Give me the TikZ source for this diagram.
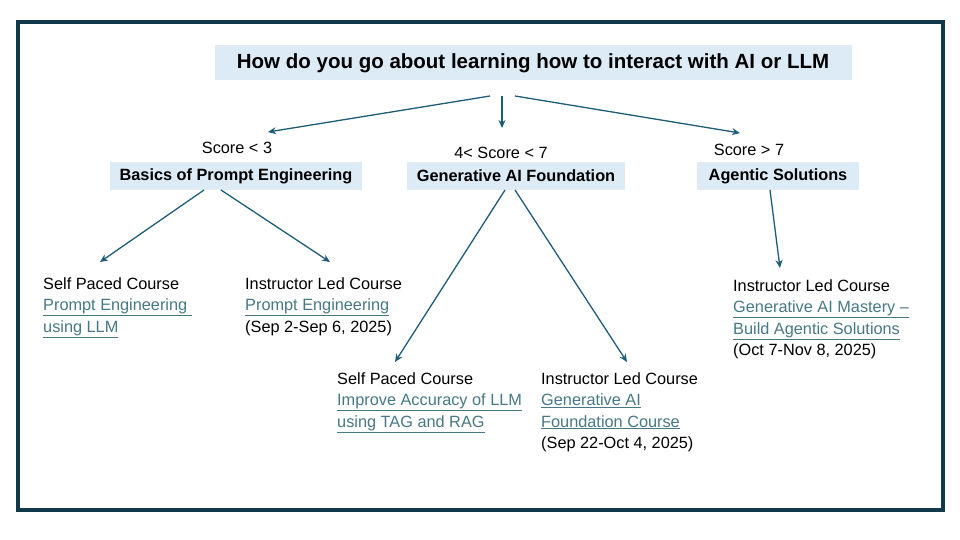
\documentclass[tikz,border=0pt]{standalone}
\usepackage{fontspec}
\usetikzlibrary{arrows.meta}
\setmainfont{Liberation Sans}
\definecolor{frame}{HTML}{12394A}
\definecolor{boxfill}{HTML}{DDEBF7}
\definecolor{arr}{HTML}{1F5C7A}
\definecolor{lnk}{HTML}{467886}
\newcommand{\lk}[1]{\textcolor{lnk}{\underline{#1}}}
\begin{document}
\begin{tikzpicture}[x=1pt,y=-1pt,
  hdr/.style={fill=boxfill,inner sep=0pt,font=\bfseries\fontsize{16.3}{18}\selectfont},
  txt/.style={anchor=north west,align=left,inner sep=0pt,font=\fontsize{16.3}{21.5}\selectfont},
  lbl/.style={inner sep=0pt,font=\fontsize{16.3}{18}\selectfont},
  con/.style={arr,line width=1.3pt,-{Stealth[length=8pt,width=7pt]}}]
\useasboundingbox (0,0) rectangle (960,540);
\draw[frame,line width=4pt] (18,22) rectangle (943,510);
\node[fill=boxfill,minimum width=637,minimum height=35,inner sep=0pt,font=\bfseries\fontsize{20.5}{22}\selectfont] (t) at (533,63) {How do you go about learning how to interact with AI or LLM};
\coordinate (t1) at (490,96); \coordinate (t2) at (502,96); \coordinate (t3) at (515,96);
\node[lbl] (s1) at (237,148) {Score < 3};
\node[lbl] (s2) at (501,153) {4< Score < 7};
\node[lbl] (s3) at (749,150) {Score > 7};
\coordinate (a1) at (268,132); \coordinate (a2) at (502,128); \coordinate (a3) at (740,133);
\draw[con] (t1)--(a1); \draw[con] (t2)--(a2); \draw[con] (t3)--(a3);
\node[hdr,minimum width=252,minimum height=28] (b1) at (236,176) {Basics of Prompt Engineering};
\node[hdr,minimum width=218,minimum height=28] (b2) at (516,176) {Generative AI Foundation};
\node[hdr,minimum width=162,minimum height=28] (b3) at (778,176) {Agentic Solutions};
\node[txt] (c1) at (43,277) {Self Paced Course\\\lk{Prompt Engineering }\\\lk{using LLM}};
\node[txt] (c2) at (245,277) {Instructor Led Course\\\lk{Prompt Engineering}\\(Sep 2-Sep 6, 2025)};
\node[txt] (c3) at (337,372) {Self Paced Course\\\lk{Improve Accuracy of LLM}\\\lk{using TAG and RAG}};
\node[txt] (c4) at (541,372) {Instructor Led Course\\\lk{Generative AI}\\\lk{Foundation Course}\\(Sep 22-Oct 4, 2025)};
\node[txt] (c5) at (733,279) {Instructor Led Course\\\lk{Generative AI Mastery –}\\\lk{Build Agentic Solutions}\\(Oct 7-Nov 8, 2025)};
\draw[con] (204,190)--(100,262);
\draw[con] (221,190)--(330,262);
\draw[con] (505,190)--(395,362);
\draw[con] (515,190)--(627,362);
\draw[con] (770,190)--(780,268);
\end{tikzpicture}
\end{document}
